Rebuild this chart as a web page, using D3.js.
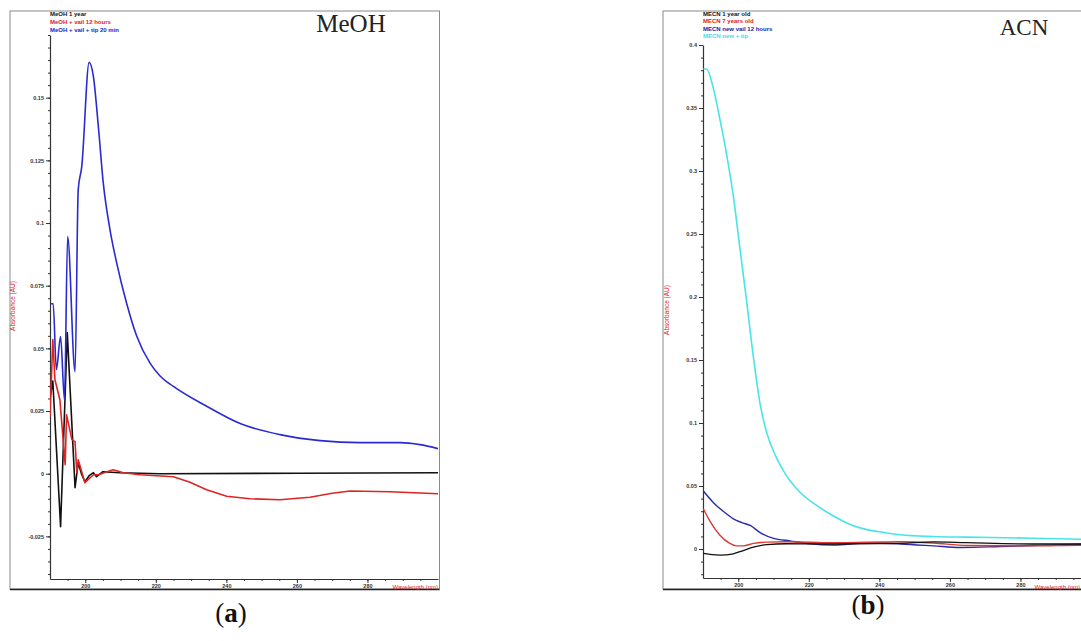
<!DOCTYPE html>
<html><head><meta charset="utf-8">
<script src="https://cdn.jsdelivr.net/npm/d3@7"></script>
<style>body{margin:0;background:#fff}svg{display:block}</style>
</head><body><svg id="c" width="1081" height="641"></svg>
<script>
// ---------- DATA ----------
// Panel (a) MeOH: [wavelength nm, absorbance AU]
const meoh1Year = [[190,0.030],[190.8,0.037],[193.0,-0.0211],[194.9,0.0563],[197.1,-0.0056],[198.0,0.0044],[199.0,-0.0004],[199.9,-0.0032],[201.1,-0.0008],[202.3,0.0004],[203.2,-0.0012],[205.0,0.0008],[209.8,0.0004],[221.2,0.0],[260.9,0.0002],[300,0.0004]];
const meohVail12h = [[190,0.0228],[190.8,0.0535],[191.4,0.0375],[192.8,0.0295],[194.3,0.0036],[194.7,0.0235],[196.2,0.0136],[197.1,0.0128],[197.6,0.0004],[198.0,0.0056],[199.9,-0.0036],[202.3,-0.0004],[203.7,-0.0004],[207.9,0.0016],[210.8,0.0004],[215.5,-0.0004],[225.0,-0.0012],[229.7,-0.0034],[234.4,-0.0064],[240.1,-0.0090],[246.7,-0.0100],[255.2,-0.0104],[263.7,-0.0094],[270.0,-0.0078],[275.1,-0.0069],[286.4,-0.0072],[300,-0.0080]];
const meohVailTip = [[190,0.0678],[190.9,0.0678],[191.8,0.0415],[193.0,0.0547],[194.1,0.0295],[195.0,0.0946],[197.1,0.0407],[198.0,0.1133],[199.0,0.1225],[201.1,0.1641],[202.3,0.1585],[203.7,0.1386],[205.1,0.116],[207.0,0.0974],[208.9,0.0841],[211.7,0.0681],[214.6,0.0548],[218.4,0.0440],[221.2,0.0390],[225.0,0.0348],[234.4,0.0269],[243.9,0.0200],[255.2,0.0156],[266.6,0.0132],[277.9,0.0124],[289.2,0.0124],[294.9,0.0116],[300,0.0100]];
// Panel (b) ACN
const mecn1Year = [[190.1,-0.0035],[191.9,-0.0042],[194.8,-0.0048],[198.6,-0.0038],[201.4,-0.0012],[204.3,0.0015],[208.1,0.0035],[213.7,0.0042],[227,0.0040],[245.9,0.0045],[255.3,0.0056],[264.8,0.0050],[283.6,0.0040],[300,0.0040]];
const mecn7Years = [[190.1,0.032],[192.0,0.022],[194.8,0.011],[197.6,0.0045],[199.5,0.0025],[201.4,0.0025],[204.3,0.0045],[208.1,0.0055],[213.7,0.0058],[227,0.0050],[245.9,0.0058],[255.3,0.0048],[264.8,0.0028],[283.6,0.0025],[296.9,0.0030],[300,0.0030]];
const mecnNewVail = [[190.1,0.046],[192.9,0.037],[195.7,0.030],[198.6,0.024],[201.0,0.021],[203.5,0.0185],[206.2,0.013],[210.0,0.0085],[214.7,0.0065],[220.4,0.0042],[227,0.0032],[236.4,0.0048],[245.9,0.0040],[255.3,0.0025],[262.9,0.0012],[274.2,0.0020],[283.6,0.0028],[296.9,0.0038],[300,0.0040]];
const mecnNewTip = [[190.1,0.381],[191.0,0.381],[192.9,0.366],[194.8,0.341],[196.7,0.313],[198.6,0.280],[200.5,0.238],[202.4,0.196],[204.3,0.152],[206.2,0.115],[208.1,0.092],[210.9,0.072],[213.7,0.058],[217.5,0.045],[222.2,0.0346],[226.9,0.0264],[231.7,0.0195],[236.4,0.0154],[241.1,0.0132],[245.9,0.0113],[255.3,0.0099],[264.8,0.0094],[283.6,0.0086],[296.9,0.0077],[300,0.0075]];

const xMajorTicks = [200,220,240,260,280];
const yTicksA = [-0.025,0,0.025,0.05,0.075,0.1,0.125,0.15];
const yTickLabelsA = ["-0.025","0","0.025","0.05","0.075","0.1","0.125","0.15"];
const yTicksB = [0,0.05,0.1,0.15,0.2,0.25,0.3,0.35,0.4];
const yTickLabelsB = ["0","0.05","0.1","0.15","0.2","0.25","0.3","0.35","0.4"];
const legendA = ["MeOH 1 year","MeOH + vail 12 hours","MeOH + vail + tip 20 min"];
const legendB = ["MECN 1 year old","MECN 7 years old","MECN new vail 12 hours","MECN new + tip"];

// ---------- DRAW ----------
const svg = d3.select("#c");
svg.append("rect").attr("width",1081).attr("height",641).attr("fill","#fff");

function range(a,b,s){const r=[];for(let v=a;v<=b+1e-9;v+=s)r.push(+v.toFixed(4));return r;}

function panel(o){
  const g = svg.append("g");
  g.append("rect").attr("x",o.fx0).attr("y",11).attr("width",o.fx1-o.fx0).attr("height",578)
    .attr("fill","none").attr("stroke","#8a8a8a").attr("stroke-width",1);
  g.append("line").attr("x1",o.fx0).attr("x2",o.fx1).attr("y1",589.5).attr("y2",589.5)
    .attr("stroke","#222").attr("stroke-width",1.5);

  const x = d3.scaleLinear().domain([190,300]).range([o.px0,o.px0+388]);
  const y = d3.scaleLinear().domain(o.yDom).range([o.pyB,o.pyT]);

  const clipId = "clip"+o.id;
  g.append("clipPath").attr("id",clipId).append("rect")
    .attr("x",o.px0).attr("y",o.pyT-2).attr("width",388).attr("height",o.pyB-o.pyT+2);

  g.append("g").attr("transform",`translate(${o.px0},0)`)
    .call(d3.axisLeft(y).tickValues(o.yMinor).tickSize(2).tickFormat(""))
    .call(s=>{s.select(".domain").remove();s.selectAll("line").attr("stroke","#333");});
  g.append("g").attr("transform",`translate(${o.px0},0)`)
    .call(d3.axisLeft(y).tickValues(o.yTicks).tickSize(4).tickSizeOuter(0).tickPadding(2)
      .tickFormat((d,i)=>o.yLabels[i]))
    .call(s=>{s.select(".domain").attr("stroke","#333").attr("stroke-width",1.2);
      s.selectAll("line").attr("stroke","#333");
      s.selectAll("text").attr("font-family","Liberation Sans, Arial, sans-serif")
        .attr("font-size",5.5).attr("font-weight","bold").attr("fill","#333");});
  g.append("g").attr("transform",`translate(0,${o.pyB})`)
    .call(d3.axisBottom(x).tickValues(range(195,295,5)).tickSize(2).tickFormat(""))
    .call(s=>{s.select(".domain").remove();s.selectAll("line").attr("stroke","#333");});
  g.append("g").attr("transform",`translate(0,${o.pyB})`)
    .call(d3.axisBottom(x).tickValues(xMajorTicks).tickSize(4).tickSizeOuter(0).tickPadding(1)
      .tickFormat(d3.format("d")))
    .call(s=>{s.select(".domain").attr("stroke","#333").attr("stroke-width",1.2);
      s.selectAll("line").attr("stroke","#333");
      s.selectAll("text").attr("font-family","Liberation Sans, Arial, sans-serif")
        .attr("font-size",5.5).attr("font-weight","bold").attr("fill","#333");});

  g.append("text").attr("x",o.wlx).attr("y",589)
    .attr("text-anchor","end")
    .attr("font-family","Liberation Sans, Arial, sans-serif").attr("font-size",6)
    .attr("fill","#e02020").text("Wavelength (nm)");
  g.append("text").attr("transform",`translate(${o.ylx},${o.yly}) rotate(-90)`)
    .attr("text-anchor","middle").attr("font-family","Liberation Sans, Arial, sans-serif")
    .attr("font-size",6.5).attr("fill","#e02020").text("Absorbance (AU)");

  const lg = g.append("g").attr("clip-path",`url(#${clipId})`);
  o.series.forEach(s=>{
    const line = d3.line().x(d=>x(d[0])).y(d=>y(d[1])).curve(s.curve||o.curve);
    lg.append("path").datum(s.data).attr("fill","none").attr("stroke",s.color)
      .attr("stroke-width",s.w||1.6).attr("stroke-linejoin","round").attr("d",line);
  });

  o.legend.forEach((t,i)=>{
    g.append("text").attr("x",o.px0).attr("y",o.legY[i])
      .attr("font-family","Liberation Sans, Arial, sans-serif").attr("font-size",6)
      .attr("font-weight","bold").attr("fill",o.legColors[i]).text(t);
  });

  g.append("text").attr("x",o.tx).attr("y",o.ty).attr("text-anchor","middle")
    .attr("font-family","Liberation Serif, DejaVu Serif, serif").attr("font-size",o.tsize)
    .attr("fill","#222").text(o.title);

  const pl = svg.append("text").attr("x",o.lx).attr("y",o.ly).attr("text-anchor","middle")
    .attr("font-family","Liberation Serif, DejaVu Serif, serif").attr("font-size",27).attr("fill","#111");
  pl.append("tspan").text("(");
  pl.append("tspan").attr("font-weight","bold").text(o.id);
  pl.append("tspan").text(")");
}

panel({id:"a",fx0:10,fx1:439.5,px0:50,pyT:35,pyB:579,yDom:[-0.042,0.175],
  yTicks:yTicksA,yLabels:yTickLabelsA,yMinor:range(-0.04,0.175,0.005),
  ylx:15,yly:306,curve:d3.curveLinear,wlx:438,
  series:[{data:meoh1Year,color:"#111"},{data:meohVailTip,color:"#2a2ad2",curve:d3.curveMonotoneX},{data:meohVail12h,color:"#e02424"}],
  legend:legendA,legColors:["#111","#e02020","#2222d0"],legY:[15.5,23.5,31.5],
  title:"MeOH",tx:351,ty:32,tsize:25,lx:231,ly:622});

panel({id:"b",fx0:663,fx1:1100,px0:703,pyT:45,pyB:578,yDom:[-0.023,0.4],
  yTicks:yTicksB,yLabels:yTickLabelsB,yMinor:range(-0.02,0.4,0.01),
  ylx:669,yly:310,curve:d3.curveMonotoneX,wlx:1080,
  series:[{data:mecnNewTip,color:"#48e4e8",w:1.6},{data:mecnNewVail,color:"#2a2aa6",w:1.4},{data:mecn7Years,color:"#d83a30",w:1.4},{data:mecn1Year,color:"#111",w:1.3}],
  legend:legendB,legColors:["#111","#e02020","#1a1aa8","#40dcec"],legY:[15.5,23,30.5,38],
  title:"ACN",tx:1024,ty:35,tsize:23,lx:868,ly:614});
</script></body></html>
